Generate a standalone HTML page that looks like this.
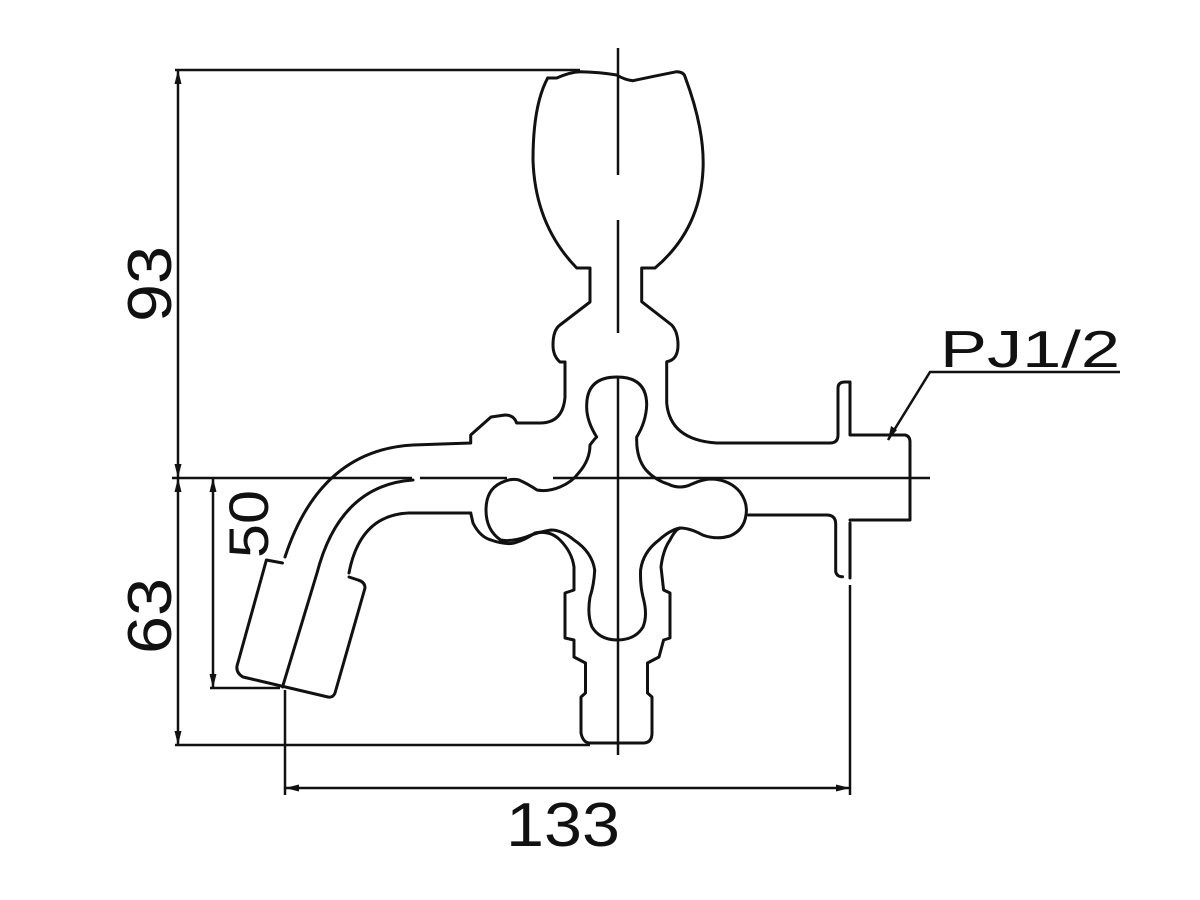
<!DOCTYPE html>
<html><head><meta charset="utf-8"><style>html,body{margin:0;padding:0;background:#fff}svg{display:block}</style></head><body>
<svg width="1200" height="900" viewBox="0 0 1200 900" xmlns="http://www.w3.org/2000/svg">
<g fill="none" stroke="#111" stroke-width="3" stroke-linejoin="round" stroke-linecap="round">
<path d="M547.7,78 L556.7,78 Q570,72 580,71.7 Q600,72 616.7,75 Q625,80 633,80.7 Q655,76 676.7,71.7 Q684,72 685,76.7 Q705,130 703,170 Q700,230 655,268 L641.7,268 L641.7,301.7 L671.7,325 Q678,332 678,345 Q678,360 666.7,361.7 L666.7,403 Q670,440 716.7,443 L830,443 Q838,443 838,435 L838,388 Q838,382 845,382 L850,382 L850,435 L905,435 Q910,436 910,442 L910,520 L850,520"/>
<path d="M850,523 L850,578"/>
<path d="M748.5,515 L826.5,515 Q835.7,515 835.7,524 L835.7,571.7 Q837,577 842.6,576.7"/>
<path d="M565,362 L565,397 Q563,423 540,423 L519,423 L516.6,423 Q514,415 505,415 L491,417 L470.7,435 L470.7,443 L413,445 Q320,450 285,557"/>
<path d="M565,362 L560,362 Q553,356 553,345 Q553,330 560,325 L590,302 L590,268 L576.7,268 Q535,225 533,160 Q533,105 547.7,78"/>
<path d="M617,377 Q646.7,377 646.7,405 Q646,422 636.7,437 Q636,458 646,470 Q655,480 668,484 Q680,490 692,484 Q703,479 712,479 Q730,480 740,492 Q748,503 746,515 Q744,530 730,536 Q716,540 702.6,535 Q690,528 680,528 Q670,530 659,540 Q643,552 640.6,570 Q640,585 643,597 Q648,615 643,627 Q635,640 617.6,640 Q600,640 592,627 Q587,615 590,597 Q594,585 594.7,570 Q592,552 574,540 Q562,530 551,530 Q538,532 526,537 Q510,542 500.6,540 Q486,530 486,510 Q486,490 500.6,483 Q510,478 519,480 Q528,484 537,490 Q548,492 560,487 Q572,482 578.6,473 Q590,460 590,445 Q596,437 596.7,437 Q586,420 586.7,405 Q587,377 617,377 Z"/>
<path d="M470.7,513 L473,523 Q480,537 491,540 Q505,545 514,543 Q525,540 535,533 Q550,530 560,540 Q572,552 574,567 L574,590 L565,593 L565,638 L574,640 L574,657 L585.5,663 L585.5,693 L581,697 L581,733 Q583,743 590,743 L643,743 Q652,743 652,733 L652,697 L647.5,693 L647.5,663 L659,657 L663.6,640 L670,638 L670,593 L663.6,590 L661,567 Q663,550 670,540 Q675,530 680,528"/>
<path d="M470.7,513 L408.7,513 Q360,515 349,573"/>
<path d="M349,577 L358,580 Q365,582 365,588 L335,693 Q333,698 328,697 L243,677 Q236,673 237,666 L266.4,560 L282.5,563"/>
<path d="M413,480 Q340,485 317,573 L282.5,687"/>
</g>
<g stroke="#111" stroke-width="2.5" fill="none">
<path d="M618,48 V175 M618,220 V333 M618,377 V755"/>
<path d="M172,478 H412 M420,478 H507 M553,478 H930"/>
<path d="M175,70 H580"/>
<path d="M178,70 V745"/>
<path d="M175,745 H590"/>
<path d="M213,478 V688 M210,688 H280"/>
<path d="M285,690 V795 M850,585 V795 M285,788 H850"/>
<path d="M888,440 L930,372 H1120"/>
</g>
<g fill="#111">
<path d="M178,70 l-3.5,14 h7 Z"/><path d="M178,478 l-3.5,-14 h7 Z"/>
<path d="M178,478 l-3.5,14 h7 Z"/><path d="M178,745 l-3.5,-14 h7 Z"/>
<path d="M213,478 l-3.5,14 h7 Z"/><path d="M213,688 l-3.5,-14 h7 Z"/>
<path d="M285,788 l14,-3.5 v7 Z"/><path d="M850,788 l-14,-3.5 v7 Z"/>
<path d="M888,440 l3,-14 l6,4 Z"/>
</g>
<g font-family="Liberation Sans, sans-serif" font-size="62" fill="#111">
<text transform="translate(171,284) rotate(-90)" text-anchor="middle" textLength="76" lengthAdjust="spacingAndGlyphs">93</text>
<text transform="translate(171,616) rotate(-90)" text-anchor="middle" textLength="76" lengthAdjust="spacingAndGlyphs">63</text>
<text transform="translate(268,524) rotate(-90)" text-anchor="middle" font-size="56" textLength="68" lengthAdjust="spacingAndGlyphs">50</text>
<text x="563" y="846" text-anchor="middle" textLength="114" lengthAdjust="spacingAndGlyphs">133</text>
<text x="940" y="367" font-size="52" textLength="180" lengthAdjust="spacingAndGlyphs">PJ1/2</text>
</g>
</svg>
</body></html>
